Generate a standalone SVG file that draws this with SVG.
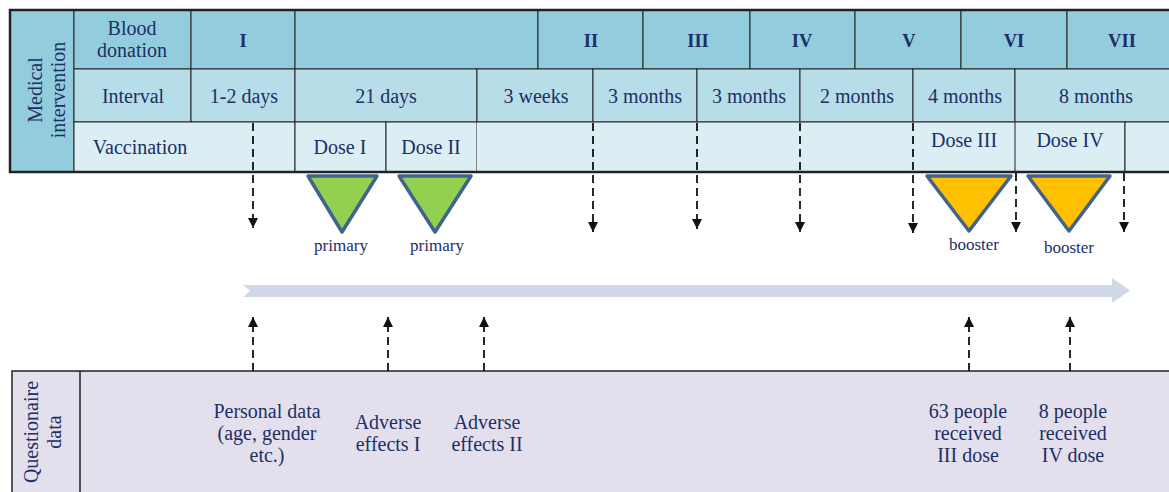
<svg xmlns="http://www.w3.org/2000/svg" width="1169" height="492" viewBox="0 0 1169 492">
<style>
text{font-family:'Liberation Serif','DejaVu Serif',serif;fill:#1c2f66;text-anchor:middle;dominant-baseline:central}
.t{font-size:20px}
.b{font-size:18.5px;font-weight:bold}
.s{font-size:17px}
.r1{fill:#93cddd;stroke:#222;stroke-width:1}
.r2{fill:#b7dee8;stroke:#222;stroke-width:1}
.r3{fill:#daeef3;stroke:#222;stroke-width:1}
.q{fill:#e4dfec;stroke:#222;stroke-width:1.5}
.dash{stroke:#111;stroke-width:1.8;stroke-dasharray:8 5;fill:none}
.tg{fill:#92d050;stroke:#41648f;stroke-width:3.5;stroke-linejoin:round}
.ty{fill:#ffc000;stroke:#41648f;stroke-width:3.5;stroke-linejoin:round}
</style>
<defs>
<marker id="ah" viewBox="0 0 10 10" refX="10" refY="5" markerWidth="10" markerHeight="10" markerUnits="userSpaceOnUse" orient="auto">
<path d="M0,0 L10,5 L0,10 z" fill="#111"/>
</marker>
</defs>
<rect width="1169" height="492" fill="#fff"/>

<g id="medical-intervention">
<rect x="10" y="10" width="64" height="162" class="r1"/>
<text class="t" transform="translate(35,90) rotate(-90)">Medical</text>
<text class="t" transform="translate(58,90) rotate(-90)">intervention</text>
</g>

<g id="row-blood-donation">
<rect x="74" y="10" width="117" height="59" class="r1"/>
<text class="t" x="132" y="28">Blood</text>
<text class="t" x="132" y="50">donation</text>
<rect x="191" y="10" width="104" height="59" class="r1"/>
<text class="b" x="243" y="41">I</text>
<rect x="295" y="10" width="243" height="59" class="r1"/>
<rect x="538" y="10" width="105" height="59" class="r1"/>
<text class="b" x="591" y="41">II</text>
<rect x="643" y="10" width="107" height="59" class="r1"/>
<text class="b" x="698" y="41">III</text>
<rect x="750" y="10" width="105" height="59" class="r1"/>
<text class="b" x="802" y="41">IV</text>
<rect x="855" y="10" width="106" height="59" class="r1"/>
<text class="b" x="909" y="41">V</text>
<rect x="961" y="10" width="106" height="59" class="r1"/>
<text class="b" x="1014" y="41">VI</text>
<rect x="1067" y="10" width="110" height="59" class="r1"/>
<text class="b" x="1122" y="41">VII</text>
</g>

<g id="row-interval">
<rect x="74" y="69" width="117" height="53" class="r2"/>
<text class="t" x="133" y="96">Interval</text>
<rect x="191" y="69" width="104" height="53" class="r2"/>
<text class="t" x="244" y="96">1-2 days</text>
<rect x="295" y="69" width="182" height="53" class="r2"/>
<text class="t" x="386" y="96">21 days</text>
<rect x="477" y="69" width="116" height="53" class="r2"/>
<text class="t" x="536" y="96">3 weeks</text>
<rect x="593" y="69" width="104" height="53" class="r2"/>
<text class="t" x="645" y="96">3 months</text>
<rect x="697" y="69" width="103" height="53" class="r2"/>
<text class="t" x="749" y="96">3 months</text>
<rect x="800" y="69" width="113" height="53" class="r2"/>
<text class="t" x="857" y="96">2 months</text>
<rect x="913" y="69" width="102" height="53" class="r2"/>
<text class="t" x="965" y="96">4 months</text>
<rect x="1015" y="69" width="162" height="53" class="r2"/>
<text class="t" x="1096" y="96">8 months</text>
</g>

<g id="row-vaccination">
<rect x="74" y="122" width="221" height="50" class="r3"/>
<text class="t" x="140" y="147">Vaccination</text>
<rect x="295" y="122" width="91" height="50" class="r3"/>
<text class="t" x="340" y="147">Dose I</text>
<rect x="386" y="122" width="91" height="50" class="r3"/>
<text class="t" x="431" y="147">Dose II</text>
<rect x="477" y="122" width="436" height="50" fill="#daeef3"/>
<line x1="477" y1="122" x2="913" y2="122" stroke="#222" stroke-width="1"/>
<rect x="913" y="122" width="102" height="50" fill="#daeef3"/>
<line x1="913" y1="122" x2="1015" y2="122" stroke="#222" stroke-width="1"/>
<text class="t" x="964" y="140">Dose III</text>
<rect x="1015" y="122" width="110" height="50" class="r3"/>
<text class="t" x="1070" y="140">Dose IV</text>
<rect x="1125" y="122" width="52" height="50" class="r3"/>
</g>

<rect x="10" y="10" width="1170" height="162" fill="none" stroke="#222" stroke-width="2.5"/>

<g id="dose-triangles">
<polygon points="308,176 377,176 342,232" class="tg"/>
<text class="s" x="341" y="245">primary</text>
<polygon points="399,176 471,176 435,232" class="tg"/>
<text class="s" x="437" y="245">primary</text>
<polygon points="927,176 1011,176 969,231" class="ty"/>
<text class="s" x="974" y="244">booster</text>
<polygon points="1028,176 1110,176 1069,231" class="ty"/>
<text class="s" x="1069" y="247">booster</text>
</g>

<g id="timeline-arrow">
<polygon points="243,285 1112,285 1112,278 1130,290.5 1112,303 1112,297 243,297 250,291" fill="#d0d8e8"/>
</g>

<g id="questionnaire-data">
<rect x="12" y="371" width="1170" height="130" class="q"/>
<line x1="80" y1="371" x2="80" y2="492" stroke="#222" stroke-width="1.5"/>
<text class="t" transform="translate(31,432) rotate(-90)">Questionaire</text>
<text class="t" transform="translate(54,432) rotate(-90)">data</text>
<text class="t" x="267" y="411">Personal data</text>
<text class="t" x="267" y="433">(age, gender</text>
<text class="t" x="267" y="455">etc.)</text>
<text class="t" x="388" y="422">Adverse</text>
<text class="t" x="388" y="444">effects I</text>
<text class="t" x="487" y="422">Adverse</text>
<text class="t" x="487" y="444">effects II</text>
<text class="t" x="968" y="411">63 people</text>
<text class="t" x="968" y="433">received</text>
<text class="t" x="968" y="455">III dose</text>
<text class="t" x="1073" y="411">8 people</text>
<text class="t" x="1073" y="433">received</text>
<text class="t" x="1073" y="455">IV dose</text>
</g>

<g id="connectors">
<line x1="253" y1="123" x2="253" y2="228" class="dash" marker-end="url(#ah)"/>
<line x1="593" y1="123" x2="593" y2="232" class="dash" marker-end="url(#ah)"/>
<line x1="697" y1="123" x2="697" y2="229" class="dash" marker-end="url(#ah)"/>
<line x1="800" y1="123" x2="800" y2="232" class="dash" marker-end="url(#ah)"/>
<line x1="913" y1="123" x2="913" y2="233" class="dash" marker-end="url(#ah)"/>
<line x1="1016" y1="173" x2="1016" y2="232" class="dash" marker-end="url(#ah)"/>
<line x1="1124" y1="173" x2="1124" y2="232" class="dash" marker-end="url(#ah)"/>
<line x1="253" y1="371" x2="253" y2="317" class="dash" marker-end="url(#ah)"/>
<line x1="388" y1="371" x2="388" y2="317" class="dash" marker-end="url(#ah)"/>
<line x1="484" y1="371" x2="484" y2="317" class="dash" marker-end="url(#ah)"/>
<line x1="969" y1="371" x2="969" y2="317" class="dash" marker-end="url(#ah)"/>
<line x1="1070" y1="371" x2="1070" y2="317" class="dash" marker-end="url(#ah)"/>
</g>
</svg>
